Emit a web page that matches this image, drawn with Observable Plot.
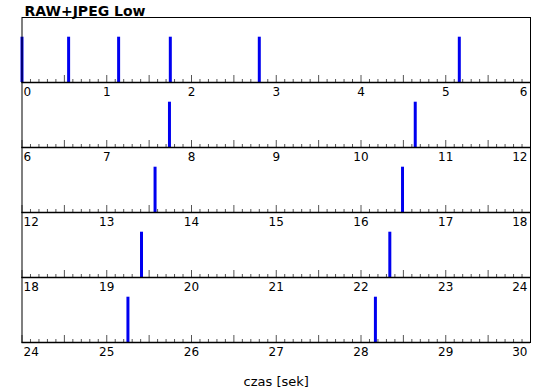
<!DOCTYPE html>
<html><head><meta charset="utf-8">
<script src="https://cdn.jsdelivr.net/npm/d3@7"></script>
<script src="https://cdn.jsdelivr.net/npm/@observablehq/plot@0.6"></script>
<style>body{margin:0;background:#fff}</style>
</head><body><div id="chart"></div>
<script>
const title = "RAW+JPEG Low";
const xLabel = "czas [sek]";
const rowStarts = [0, 6, 12, 18, 24];
const tickValues = [0, 1, 2, 3, 4, 5, 6];
const eventTimes = [0.00, 0.55, 1.14, 1.75, 2.80, 5.16, 7.74, 10.64, 13.57, 16.49, 19.41, 22.34, 25.25, 28.17];
const eventValues = eventTimes.map(() => 1);

const rowSpan = 6;
const events = eventTimes.map((t, i) => {
  const row = Math.min(rowStarts.length - 1, Math.floor(t / rowSpan));
  return {row, x: t - rowStarts[row], v: eventValues[i]};
});
const labels = rowStarts.flatMap((s, r) => tickValues.map((v, j) => ({row: r, x: v, label: String(s + v), pos: j})));
const lastPos = tickValues.length - 1;
const minorTicks = d3.range(0, 61).map(i => i / 10).filter((d, i) => i % 5 !== 0);
const majorTicks = d3.range(0, 13).map(i => i / 2);

const plot = Plot.plot({
  width: 550, height: 389,
  marginTop: 17, marginBottom: 47, marginLeft: 21.5, marginRight: 20,
  style: {fontFamily: "'DejaVu Sans', sans-serif", fontSize: "12px", background: "#fff", color: "#000"},
  x: {domain: [0, rowSpan], axis: null},
  y: {domain: [0, 1.435], axis: null},
  fy: {domain: rowStarts.map((d, i) => i), padding: 0, axis: null},
  marks: [
    Plot.ruleX(minorTicks, {x: d => d, stroke: "#555", strokeWidth: 1, insetTop: 62}),
    Plot.ruleX(majorTicks, {x: d => d, stroke: "#555", strokeWidth: 1, insetTop: 58}),
    Plot.ruleX(events, {x: "x", fy: "row", y1: 0, y2: "v", stroke: "#0000f0", strokeWidth: 3}),
    Plot.frame({stroke: "#000", strokeWidth: 1}),
    Plot.ruleY([0], {stroke: "#000", strokeWidth: 1.6}),
    Plot.text(labels.filter(d => d.pos === 0), {x: "x", fy: "row", text: "label", frameAnchor: "bottom", lineAnchor: "top", dy: 5, dx: 1.5, textAnchor: "start"}),
    Plot.text(labels.filter(d => d.pos > 0 && d.pos < lastPos), {x: "x", fy: "row", text: "label", frameAnchor: "bottom", lineAnchor: "top", dy: 5, textAnchor: "middle"}),
    Plot.text(labels.filter(d => d.pos === lastPos), {x: "x", fy: "row", text: "label", frameAnchor: "bottom", lineAnchor: "top", dy: 5, dx: -3, textAnchor: "end"}),
    Plot.text([title], {fy: () => 0, frameAnchor: "top-left", lineAnchor: "bottom", dx: 2.5, dy: -2, fontWeight: "bold", fontSize: 14, textAnchor: "start"}),
    Plot.text([xLabel], {fy: () => rowStarts.length - 1, frameAnchor: "bottom", lineAnchor: "bottom", dy: 43, fontSize: 13})
  ]
});
document.getElementById("chart").appendChild(plot);
</script>
</body></html>
